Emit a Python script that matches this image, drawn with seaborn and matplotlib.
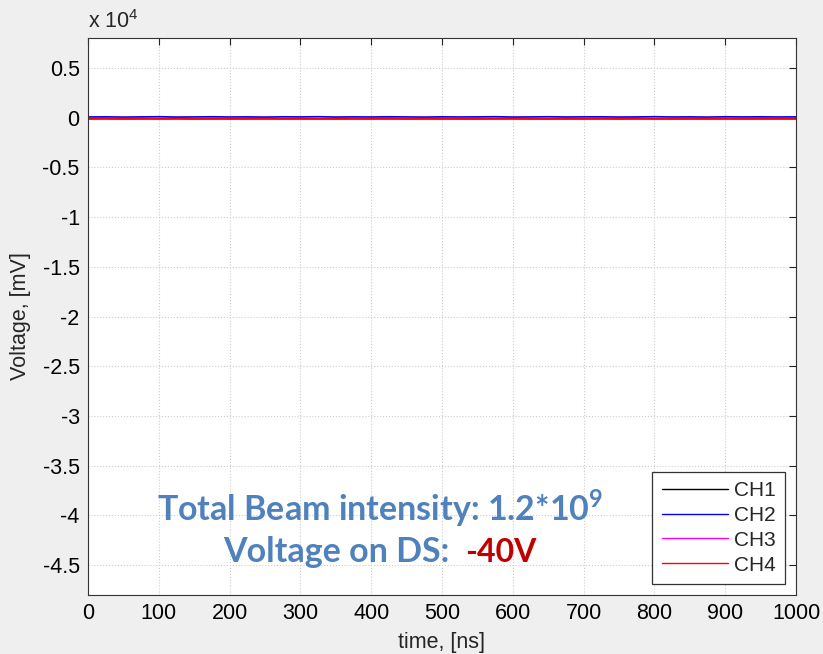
import numpy as np
import pandas as pd
import matplotlib
matplotlib.use("Agg")
import matplotlib.pyplot as plt
import seaborn as sns

# ---- data ----
time_ns = [0, 25, 50, 75, 100, 125, 150, 175, 200, 225, 250, 275, 300, 325, 350, 375, 400,
           425, 450, 475, 500, 525, 550, 575, 600, 625, 650, 675, 700, 725, 750, 775, 800,
           825, 850, 875, 900, 925, 950, 975, 1000]
ch1 = [-110, -95, -130, -100, -120, -90, -115, -105, -125, -100, -95, -120, -110, -130, -100,
       -105, -115, -95, -120, -110, -100, -125, -105, -115, -95, -110, -130, -100, -120, -105,
       -110, -95, -125, -115, -100, -120, -105, -110, -95, -115, -105]
ch2 = [60, 75, 50, 70, 85, 55, 65, 80, 60, 70, 50, 75, 65, 85, 55, 70, 60, 80, 65, 50,
       75, 60, 70, 85, 55, 65, 80, 60, 70, 75, 55, 65, 85, 60, 70, 50, 80, 65, 75, 60, 70]
ch3 = [-140, -125, -155, -135, -150, -120, -145, -160, -130, -140, -150, -125, -145, -135, -155,
       -140, -130, -150, -125, -145, -160, -135, -140, -150, -130, -145, -125, -155, -140, -135,
       -150, -130, -145, -160, -125, -140, -150, -135, -145, -130, -140]
ch4 = [-115, -105, -120, -110, -100, -115, -125, -105, -110, -120, -100, -115, -110, -105, -125,
       -110, -115, -100, -120, -105, -110, -115, -125, -100, -110, -120, -105, -115, -110, -100,
       -120, -110, -105, -115, -125, -110, -100, -115, -120, -105, -110]
channels = ["CH1", "CH2", "CH3", "CH4"]
colors = ["#000000", "#0000ff", "#ff00ff", "#ff0000"]

xticks = [0, 100, 200, 300, 400, 500, 600, 700, 800, 900, 1000]
yticks_scaled = [0.5, 0, -0.5, -1, -1.5, -2, -2.5, -3, -3.5, -4, -4.5]
ytick_labels = ["0.5", "0", "-0.5", "-1", "-1.5", "-2", "-2.5", "-3", "-3.5", "-4", "-4.5"]

df = pd.DataFrame({
    "time": time_ns * 4,
    "voltage": ch1 + ch2 + ch3 + ch4,
    "channel": sum([[c] * len(time_ns) for c in channels], []),
})

sns.set_style("white")
plt.rcParams["font.family"] = ["Liberation Sans", "DejaVu Sans"]
plt.rcParams["mathtext.fontset"] = "custom"
plt.rcParams["mathtext.rm"] = "Liberation Sans"
plt.rcParams["mathtext.bf"] = "Lato:bold"

fig = plt.figure(figsize=(8.23, 6.54), dpi=100)
fig.patch.set_facecolor("#efefef")
ax = fig.add_axes([0.1069, 0.0902, 0.8603, 0.8517])
ax.set_facecolor("white")

sns.lineplot(data=df, x="time", y="voltage", hue="channel", hue_order=channels,
             palette=colors, linewidth=1.2, ax=ax, estimator=None, sort=False)

ax.set_xlim(0, 1000)
ax.set_ylim(-4.8e4, 0.8e4)
ax.set_xticks(xticks)
ax.set_xticklabels([str(t) for t in xticks])
ax.set_yticks([v * 1e4 for v in yticks_scaled])
ax.set_yticklabels(ytick_labels)
ax.tick_params(axis="both", direction="in", length=5, width=0.8, labelsize=15.5,
               top=True, right=True, colors="#222222", labelcolor="black", pad=6)
ax.grid(True, color="#cccccc", linestyle=":", linewidth=0.8)
for s in ax.spines.values():
    s.set_visible(True)
    s.set_color("#333333")
    s.set_linewidth(0.8)

ax.set_xlabel("time, [ns]", fontsize=15.5)
ax.set_ylabel("Voltage, [mV]", fontsize=15.5)
ax.xaxis.set_label_coords(0.5, -0.066)
ax.yaxis.set_label_coords(-0.080, 0.5)

fig.text(0.107, 0.950, r"x 10$^{4}$", fontsize=15.5, ha="left", va="bottom")

leg = ax.legend(loc="lower right", fontsize=15, borderaxespad=0.53,
                frameon=True, fancybox=False, edgecolor="#333333", framealpha=1,
                handlelength=3.17, handletextpad=0.3, borderpad=0.45, labelspacing=0.28)
leg.get_frame().set_linewidth(0.9)
for h in leg.get_lines():
    h.set_linewidth(1.0)

blue = "#4f81bd"
ax.text(0.4124, 0.1346, r"Total Beam intensity: 1.2*10$^{\mathbf{9}}$", transform=ax.transAxes,
        fontsize=24.5, fontweight="bold", color=blue, ha="center", va="baseline",
        family=["Lato", "DejaVu Sans"])
ax.text(0.1907, 0.0592, "Voltage on DS:", transform=ax.transAxes,
        fontsize=24.5, fontweight="bold", color=blue, ha="left", va="baseline",
        family=["Lato", "DejaVu Sans"])
ax.text(0.5325, 0.0592, "-40V", transform=ax.transAxes,
        fontsize=23, fontweight="bold", color="#c00000", ha="left", va="baseline",
        family=["Lato", "DejaVu Sans"])

fig.savefig("out.png", dpi=100, facecolor=fig.get_facecolor())
